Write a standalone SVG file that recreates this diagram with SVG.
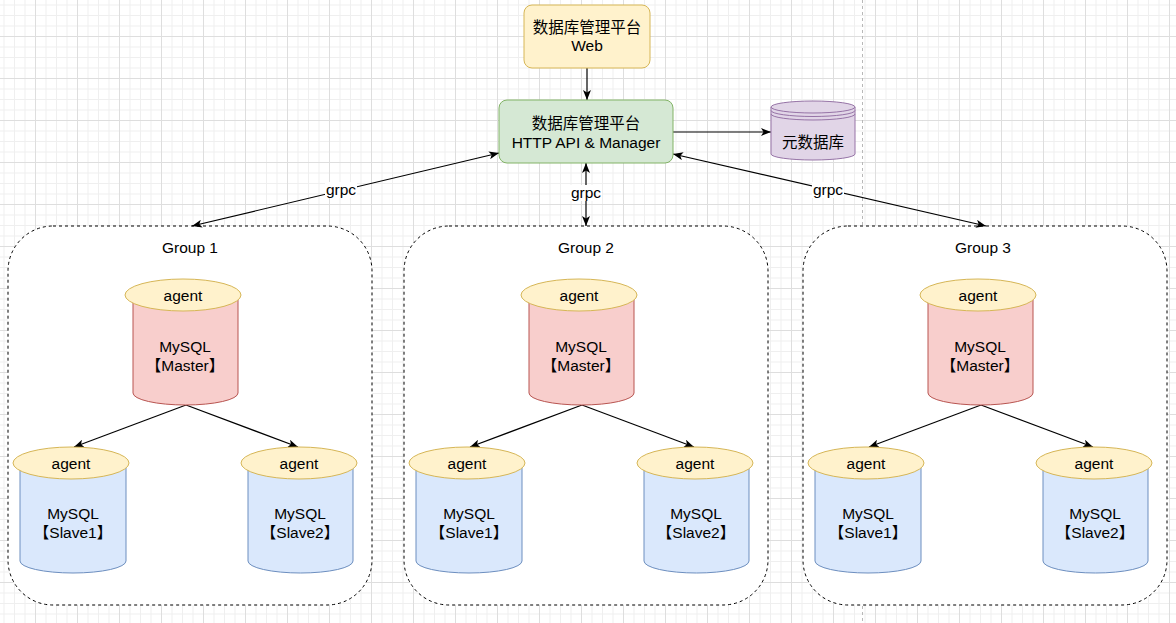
<svg xmlns="http://www.w3.org/2000/svg" width="1176" height="623" viewBox="0 0 1176 623">
<defs>
<pattern id="grid" patternUnits="userSpaceOnUse" x="35" y="36" width="42" height="42">
<rect x="0" y="0" width="42" height="42" fill="#ffffff"/>
<rect x="10.5" y="0" width="1" height="42" fill="#efefef"/>
<rect x="21" y="0" width="1" height="42" fill="#efefef"/>
<rect x="31.5" y="0" width="1" height="42" fill="#efefef"/>
<rect x="0" y="10.5" width="42" height="1" fill="#efefef"/>
<rect x="0" y="21" width="42" height="1" fill="#efefef"/>
<rect x="0" y="31.5" width="42" height="1" fill="#efefef"/>
<rect x="0" y="0" width="1" height="42" fill="#dedede"/>
<rect x="0" y="0" width="42" height="1" fill="#dedede"/>
</pattern>
<marker id="arr" viewBox="0 0 10 8" refX="10" refY="4" markerWidth="10" markerHeight="8" markerUnits="userSpaceOnUse" orient="auto-start-reverse">
<path d="M0,0 L10,4 L0,8 L2.5,4 Z" fill="#000"/>
</marker>
</defs>
<style>
text{font-family:"Liberation Sans",Arial,"Noto Sans CJK SC",sans-serif;font-size:15.5px;fill:#000;text-anchor:middle}
.grp{fill:#fff;stroke:#000;stroke-width:1;stroke-dasharray:3 3}
.web{fill:#fff2cc;stroke:#d6b656;stroke-width:1}
.api{fill:#d5e8d4;stroke:#82b366;stroke-width:1}
.meta{fill:#e1d5e7;stroke:#9673a6;stroke-width:1}
.master{fill:#f8cecc;stroke:#b85450;stroke-width:1}
.slave{fill:#dae8fc;stroke:#6c8ebf;stroke-width:1}
.agent{fill:#fff2cc;stroke:#d6b656;stroke-width:1}
.edge{fill:none;stroke:#000;stroke-width:1.2}
.lbl{fill:#fff}
</style>
<rect x="0" y="0" width="1176" height="623" fill="url(#grid)"/>
<line x1="862.5" y1="0" x2="862.5" y2="623" stroke="#b8b8b8" stroke-width="1" stroke-dasharray="3 3"/>

<g id="group1-box"><rect class="grp" x="8" y="226" width="364" height="379" rx="45" ry="45"/><text x="190" y="253">Group 1</text></g>
<g id="group2-box"><rect class="grp" x="404" y="226" width="364" height="379" rx="45" ry="45"/><text x="586" y="253">Group 2</text></g>
<g id="group3-box"><rect class="grp" x="803" y="226" width="364" height="379" rx="45" ry="45"/><text x="983" y="253">Group 3</text></g>

<g id="connectors">
<line class="edge" x1="587" y1="68" x2="587" y2="100" marker-end="url(#arr)"/>
<line class="edge" x1="673" y1="132" x2="771" y2="132" marker-end="url(#arr)"/>
<line class="edge" x1="499" y1="153" x2="192" y2="226" marker-start="url(#arr)" marker-end="url(#arr)"/>
<line class="edge" x1="586" y1="163" x2="586" y2="226" marker-start="url(#arr)" marker-end="url(#arr)"/>
<line class="edge" x1="673" y1="154" x2="986" y2="226" marker-start="url(#arr)" marker-end="url(#arr)"/>
<rect class="lbl" x="325" y="182" width="32" height="16"/>
<text x="341" y="195">grpc</text>
<rect class="lbl" x="570" y="185" width="32" height="16"/>
<text x="586" y="198">grpc</text>
<rect class="lbl" x="812" y="182" width="32" height="16"/>
<text x="828" y="195">grpc</text>
<g id="g1-edges">
<line class="edge" x1="186" y1="405" x2="74" y2="447" marker-end="url(#arr)"/>
<line class="edge" x1="186" y1="405" x2="298" y2="447" marker-end="url(#arr)"/>
</g>
<g id="g2-edges" transform="translate(396,0)">
<line class="edge" x1="186" y1="405" x2="74" y2="447" marker-end="url(#arr)"/>
<line class="edge" x1="186" y1="405" x2="298" y2="447" marker-end="url(#arr)"/>
</g>
<g id="g3-edges" transform="translate(795,0)">
<line class="edge" x1="186" y1="405" x2="74" y2="447" marker-end="url(#arr)"/>
<line class="edge" x1="186" y1="405" x2="298" y2="447" marker-end="url(#arr)"/>
</g>
</g>

<g id="web">
<rect class="web" x="524" y="5" width="126" height="63" rx="8" ry="8"/>
<text x="587" y="33">数据库管理平台</text>
<text x="587" y="51">Web</text>
</g>
<g id="api">
<rect class="api" x="499" y="100" width="174" height="63" rx="8" ry="8"/>
<text x="586" y="129">数据库管理平台</text>
<text x="586" y="148">HTTP API &amp; Manager</text>
</g>
<g id="metadb">
<path class="meta" d="M771,107 L771,154 A42,6 0 0 0 855,154 L855,107 A42,6 0 0 0 771,107 Z"/>
<path class="meta" d="M771,107 A42,6 0 0 0 855,107" fill="none"/>
<path d="M771,110.5 A42,6 0 0 0 855,110.5" fill="none" stroke="#9673a6"/>
<path d="M771,114 A42,6 0 0 0 855,114" fill="none" stroke="#9673a6"/>
<text x="813" y="148">元数据库</text>
</g>

<g id="g1-master">
<path class="master" d="M133,295 L133,393 A52.5,12 0 0 0 238,393 L238,295 Z"/>
<ellipse class="agent" cx="183" cy="295" rx="58" ry="16"/>
<text x="183" y="301">agent</text>
<text x="185" y="352">MySQL</text>
<text x="185" y="371">【Master】</text>
</g>
<g id="g1-slave1">
<path class="slave" d="M20,463 L20,561 A53,12 0 0 0 126,561 L126,463 Z"/>
<ellipse class="agent" cx="71" cy="463" rx="58" ry="16"/>
<text x="71" y="469">agent</text>
<text x="73" y="519">MySQL</text>
<text x="73" y="538">【Slave1】</text>
</g>
<g id="g1-slave2">
<path class="slave" d="M248,463 L248,561 A52.5,12 0 0 0 353,561 L353,463 Z"/>
<ellipse class="agent" cx="299" cy="463" rx="58" ry="16"/>
<text x="299" y="469">agent</text>
<text x="300" y="519">MySQL</text>
<text x="300" y="538">【Slave2】</text>
</g>

<g id="g2-master" transform="translate(396,0)">
<path class="master" d="M133,295 L133,393 A52.5,12 0 0 0 238,393 L238,295 Z"/>
<ellipse class="agent" cx="183" cy="295" rx="58" ry="16"/>
<text x="183" y="301">agent</text>
<text x="185" y="352">MySQL</text>
<text x="185" y="371">【Master】</text>
</g>
<g id="g2-slave1" transform="translate(396,0)">
<path class="slave" d="M20,463 L20,561 A53,12 0 0 0 126,561 L126,463 Z"/>
<ellipse class="agent" cx="71" cy="463" rx="58" ry="16"/>
<text x="71" y="469">agent</text>
<text x="73" y="519">MySQL</text>
<text x="73" y="538">【Slave1】</text>
</g>
<g id="g2-slave2" transform="translate(396,0)">
<path class="slave" d="M248,463 L248,561 A52.5,12 0 0 0 353,561 L353,463 Z"/>
<ellipse class="agent" cx="299" cy="463" rx="58" ry="16"/>
<text x="299" y="469">agent</text>
<text x="300" y="519">MySQL</text>
<text x="300" y="538">【Slave2】</text>
</g>

<g id="g3-master" transform="translate(795,0)">
<path class="master" d="M133,295 L133,393 A52.5,12 0 0 0 238,393 L238,295 Z"/>
<ellipse class="agent" cx="183" cy="295" rx="58" ry="16"/>
<text x="183" y="301">agent</text>
<text x="185" y="352">MySQL</text>
<text x="185" y="371">【Master】</text>
</g>
<g id="g3-slave1" transform="translate(795,0)">
<path class="slave" d="M20,463 L20,561 A53,12 0 0 0 126,561 L126,463 Z"/>
<ellipse class="agent" cx="71" cy="463" rx="58" ry="16"/>
<text x="71" y="469">agent</text>
<text x="73" y="519">MySQL</text>
<text x="73" y="538">【Slave1】</text>
</g>
<g id="g3-slave2" transform="translate(795,0)">
<path class="slave" d="M248,463 L248,561 A52.5,12 0 0 0 353,561 L353,463 Z"/>
<ellipse class="agent" cx="299" cy="463" rx="58" ry="16"/>
<text x="299" y="469">agent</text>
<text x="300" y="519">MySQL</text>
<text x="300" y="538">【Slave2】</text>
</g>
</svg>
